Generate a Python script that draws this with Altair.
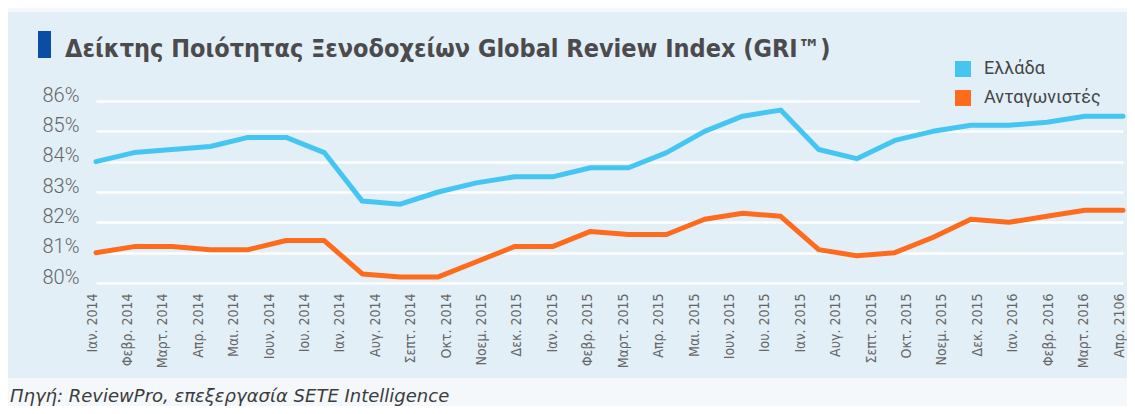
import json
import altair as alt
import pandas as pd

# ---- data ----
series_names = ["Ελλάδα", "Ανταγωνιστές"]
greece = [84.0, 84.3, 84.4, 84.5, 84.8, 84.8, 84.3, 82.7, 82.6, 83.0, 83.3, 83.5, 83.5, 83.8,
          83.8, 84.3, 85.0, 85.5, 85.7, 84.4, 84.1, 84.7, 85.0, 85.2, 85.2, 85.3, 85.5, 85.5]
competitors = [81.0, 81.2, 81.2, 81.1, 81.1, 81.4, 81.4, 80.3, 80.2, 80.2, 80.7, 81.2, 81.2, 81.7,
               81.6, 81.6, 82.1, 82.3, 82.2, 81.1, 80.9, 81.0, 81.5, 82.1, 82.0, 82.2, 82.4, 82.4]
tick_labels = ["Ιαν. 2014", "Φεβρ. 2014", "Μαρτ. 2014", "Απρ. 2014", "Μαι. 2014", "Ιουν. 2014",
               "Ιου. 2014", "Ιαν. 2014", "Αυγ. 2014", "Σεπτ. 2014", "Οκτ. 2014", "Νοεμ. 2015",
               "Δεκ. 2015", "Ιαν. 2015", "Φεβρ. 2015", "Μαρτ. 2015", "Απρ. 2015", "Μαι. 2015",
               "Ιουν. 2015", "Ιου. 2015", "Ιαν. 2015", "Αυγ. 2015", "Σεπτ. 2015", "Οκτ. 2015",
               "Νοεμ. 2015", "Δεκ. 2015", "Ιαν. 2016", "Φεβρ. 2016", "Μαρτ. 2016", "Απρ. 2106"]
y_ticks = [80, 81, 82, 83, 84, 85, 86]
title_text = "Δείκτης Ποιότητας Ξενοδοχείων Global Review Index (GRI™)"
source_text = "Πηγή: ReviewPro, επεξεργασία SETE Intelligence"

rows = []
for name, vals in zip(series_names, [greece, competitors]):
    for i, v in enumerate(vals):
        rows.append({"i": i, "v": v, "s": name})
df = pd.DataFrame(rows)
labels_df = pd.DataFrame({"j": list(range(len(tick_labels)))})

BG = "#e2eff7"
OUT = "#f4f8fb"
NARROW = "'Liberation Sans Narrow', 'DejaVu Sans Condensed', 'Roboto', sans-serif"
W, H = 1027, 182

one = alt.Data(values=[{"k": 1}])


def deco_rect(x, x2, y, y2, color):
    return alt.Chart(one).mark_rect(color=color).encode(
        x=alt.value(x), x2=alt.value(x2), y=alt.value(y), y2=alt.value(y2))


def deco_text(x, y, text, **kw):
    return alt.Chart(one).mark_text(align="left", baseline="alphabetic", **kw).encode(
        x=alt.value(x), y=alt.value(y), text=alt.value(text))


lines = alt.Chart(df).mark_line(strokeWidth=5, strokeCap="round", strokeJoin="round").encode(
    x=alt.X("i:Q", scale=alt.Scale(domain=[0, len(greece) - 1], nice=False, zero=False), axis=None),
    y=alt.Y("v:Q", scale=alt.Scale(domain=[80, 86], nice=False, zero=False),
            axis=alt.Axis(values=y_ticks, labelExpr="datum.value + '%'", title=None, grid=True,
                          gridColor="white", gridWidth=2.5, domain=False, ticks=False,
                          labelFont="Roboto", labelFontWeight=300, labelFontSize=20,
                          labelColor="#666666", labelPadding=17, labelBaseline="alphabetic")),
    color=alt.Color("s:N", scale=alt.Scale(domain=series_names, range=["#45c6f2", "#ff6b1c"]),
                    legend=alt.Legend(title=None, orient="none", legendX=858, legendY=-41,
                                      symbolType="square", symbolSize=64, symbolStrokeWidth=8,
                                      labelFont="Roboto", labelFontSize=18, labelColor="#454545",
                                      labelOffset=12, rowPadding=-11, padding=0)),
    detail="s:N",
)

label_expr = json.dumps(tick_labels, ensure_ascii=False) + "[datum.value]"
x_axis_layer = alt.Chart(labels_df).mark_point(opacity=0).encode(
    x=alt.X("j:Q", scale=alt.Scale(domain=[0, len(tick_labels) - 1], nice=False, zero=False),
            axis=alt.Axis(values=list(range(len(tick_labels))), labelExpr=label_expr,
                          labelAngle=-90, labelFont=NARROW, labelFontSize=14,
                          labelColor="#666666", labelPadding=10, labelOffset=-4,
                          labelOverlap=False, labelFlush=False, labelBound=False, grid=False,
                          domain=False, ticks=False, title=None)),
    y=alt.value(0),
)

chart = alt.layer(
    deco_rect(-88, W + 4, 277, 310, OUT),
    deco_rect(-88, W + 4, -93, -89, OUT),
    x_axis_layer,
    lines,
    deco_rect(824, W + 2, -3, 3, BG),
    deco_rect(-58, -45, -70, -43, "#0a4ea3"),
    deco_text(-31, -44, title_text, font=NARROW, fontSize=25, fontWeight="bold", color="#4b4b4d"),
    deco_text(-86, 301, source_text, font="DejaVu Sans", fontSize=18, fontStyle="italic",
              color="#3c3c3c"),
).resolve_scale(x="independent").properties(
    width=W, height=H,
    autosize=alt.AutoSizeParams(type="none"),
    padding={"left": 88, "top": 93, "right": 4, "bottom": 123},
    background=BG,
).configure_view(stroke=None)

chart.save("out.html", embed_options={"renderer": "svg", "actions": False})
